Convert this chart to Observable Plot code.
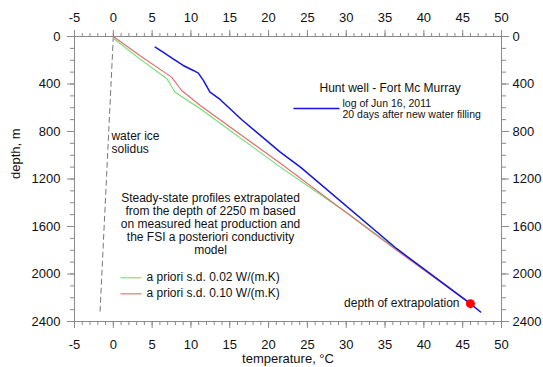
<!DOCTYPE html>
<html><head><meta charset="utf-8">
<script src="https://cdn.jsdelivr.net/npm/d3@7"></script>
<script src="https://cdn.jsdelivr.net/npm/@observablehq/plot@0.6"></script>
<style>body{margin:0;background:#fff}</style>
</head><body><div id="chart"></div>
<script>
// Temperature log (blue)
const logT = [5.4, 6.4, 7.7, 9.0, 10.3, 10.95, 11.6, 12.45, 13.75, 16.55, 21.5, 24.1, 36.5, 46.0, 47.3];
const logD = [90, 132, 188, 244, 286, 309, 370, 469, 530, 701, 974, 1100, 1787, 2250, 2320];
// Steady-state profile, a priori s.d. 0.10 (red)
const redT = [0, 3.4, 7.5, 8.8, 11.2, 21.6, 36.5, 46.0];
const redD = [0, 160, 342, 455, 581, 1072, 1801, 2250];
// Steady-state profile, a priori s.d. 0.02 (green)
const greenT = [0, 3.4, 6.9, 7.95, 11.2, 21.2, 30.5, 46.0];
const greenD = [15, 188, 356, 469, 609, 1085, 1503, 2250];
// Water ice solidus (dashed)
const solT = [0, -1.72];
const solD = [0, 2330];
// Depth of extrapolation
const extrapT = [46.0];
const extrapD = [2250];
// Ticks
const xMajor = [-5, 0, 5, 10, 15, 20, 25, 30, 35, 40, 45, 50];
const xMinor = d3.range(-5, 51, 1);
const yMajor = [0, 400, 800, 1200, 1600, 2000, 2400];
const yMinor = d3.range(0, 2401, 100);
// Texts
const xTitle = "temperature, °C";
const yTitle = "depth, m";
const wellTitle = "Hunt well - Fort Mc Murray";
const logLabel = "log of Jun 16, 2011\n20 days after new water filling";
const solidusLabel = "water ice\nsolidus";
const noteLabel = "Steady-state profiles extrapolated\nfrom the depth of 2250 m based\non measured heat production and\nthe FSI a posteriori conductivity\nmodel";
const greenLabel = "a priori s.d. 0.02 W/(m.K)";
const redLabel = "a priori s.d. 0.10 W/(m.K)";
const extrapLabel = "depth of extrapolation";

const rows = (T, D) => T.map((t, i) => ({t, d: D[i]}));
const AX = "#8a8a8a";
const BLUE = "#1414e0", RED = "#e26a6a", GREEN = "#72dc72";
const fmt = d => String(d);

const plot = Plot.plot({
  width: 543, height: 367,
  marginLeft: 74, marginRight: 42, marginTop: 36, marginBottom: 46,
  style: {fontFamily: "'Liberation Sans', Arial, sans-serif", fontSize: "13px", background: "white", color: "#111"},
  x: {domain: [-5, 50], label: null},
  y: {domain: [0, 2400], reverse: true, label: null},
  marks: [
    Plot.frame({stroke: AX}),
    // minor ticks
    Plot.axisX({anchor: "bottom", ticks: xMinor, tickSize: 4, tickFormat: () => "", stroke: AX, label: null}),
    Plot.axisX({anchor: "top", ticks: xMinor, tickSize: 4, tickFormat: () => "", stroke: AX, label: null}),
    Plot.axisY({anchor: "left", ticks: yMinor, tickSize: 4, tickFormat: () => "", stroke: AX, label: null}),
    Plot.axisY({anchor: "right", ticks: yMinor, tickSize: 4, tickFormat: () => "", stroke: AX, label: null}),
    // major ticks with labels
    Plot.axisX({anchor: "bottom", ticks: xMajor, tickFormat: fmt, tickSize: 7, tickPadding: 11, stroke: AX, fill: "#111", fontSize: 13, label: null}),
    Plot.axisX({anchor: "top", ticks: xMajor, tickFormat: fmt, tickSize: 7, tickPadding: 8, stroke: AX, fill: "#111", fontSize: 13, label: null}),
    Plot.axisY({anchor: "left", ticks: yMajor, tickFormat: fmt, tickSize: 7, tickPadding: 7, stroke: AX, fill: "#111", fontSize: 13, label: null}),
    Plot.axisY({anchor: "right", ticks: yMajor, tickFormat: fmt, tickSize: 7, tickPadding: 4, stroke: AX, fill: "#111", fontSize: 13, label: null}),
    // axis titles
    Plot.text([xTitle], {frameAnchor: "bottom", dy: 41, fontSize: 13, fill: "#111"}),
    Plot.text([yTitle], {frameAnchor: "left", dx: -59, rotate: -90, fontSize: 13, fill: "#111"}),
    // data
    Plot.line(rows(solT, solD), {x: "t", y: "d", stroke: "#777", strokeWidth: 1, strokeDasharray: "5,4"}),
    Plot.line(rows(greenT, greenD), {x: "t", y: "d", stroke: GREEN, strokeWidth: 1.1}),
    Plot.line(rows(redT, redD), {x: "t", y: "d", stroke: RED, strokeWidth: 1.1}),
    Plot.line(rows(logT, logD), {x: "t", y: "d", stroke: BLUE, strokeWidth: 1.5}),
    Plot.dot(rows(extrapT, extrapD), {x: "t", y: "d", r: 4.5, fill: "#f00", stroke: "none"}),
    // annotations
    Plot.text([solidusLabel], {x: -0.24, y: 893, textAnchor: "start", fontSize: 12, lineHeight: 1.1, fill: "#111"}),
    Plot.text([wellTitle], {x: 26.56, y: 438, textAnchor: "start", fontSize: 12, fill: "#111"}),
    Plot.link([0], {x1: 23.2, x2: 29.13, y1: 606, y2: 606, stroke: BLUE, strokeWidth: 1.5}),
    Plot.text([logLabel], {x: 29.52, y: 611, textAnchor: "start", fontSize: 10.5, lineHeight: 1.02, fill: "#111"}),
    Plot.text([noteLabel], {x: 12.52, y: 1579, textAnchor: "middle", fontSize: 12, lineHeight: 1.09, fill: "#111"}),
    Plot.link([0], {x1: 0.93, x2: 3.63, y1: 2032, y2: 2032, stroke: GREEN, strokeWidth: 1.1}),
    Plot.link([0], {x1: 0.93, x2: 3.63, y1: 2167, y2: 2167, stroke: RED, strokeWidth: 1.1}),
    Plot.text([greenLabel], {x: 4.27, y: 2029, textAnchor: "start", fontSize: 12, fill: "#111"}),
    Plot.text([redLabel], {x: 4.27, y: 2164, textAnchor: "start", fontSize: 12, fill: "#111"}),
    Plot.text([extrapLabel], {x: 44.59, y: 2243, textAnchor: "end", fontSize: 12, fill: "#111"})
  ]
});
document.getElementById("chart").appendChild(plot);
</script>
</body></html>
